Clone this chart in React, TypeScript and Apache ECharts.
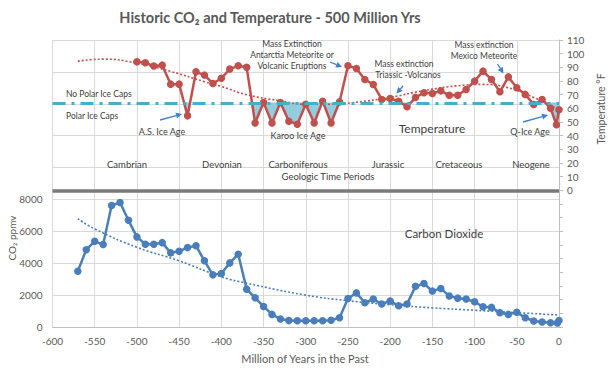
import React, { useEffect, useRef } from 'react';
import * as echarts from 'echarts';

// ---- Data ----
const co2Years = [-570, -560, -550, -540, -530, -520, -510, -500, -490, -480, -470, -460, -450, -440, -430, -420, -410, -400, -390, -380, -370, -360, -350, -340, -330, -320, -310, -300, -290, -280, -270, -260, -250, -240, -230, -220, -210, -200, -190, -180, -170, -160, -150, -140, -130, -120, -110, -100, -90, -80, -70, -60, -50, -40, -30, -20, -10, -2, 0];
const co2Values = [3500, 4850, 5375, 5170, 7625, 7810, 6690, 5650, 5190, 5190, 5290, 4650, 4750, 4980, 5100, 4150, 3270, 3350, 4020, 4560, 2375, 1830, 1290, 790, 500, 400, 390, 390, 390, 390, 420, 580, 1790, 2140, 1520, 1750, 1440, 1625, 1330, 1440, 2550, 2730, 2250, 2420, 1940, 1810, 1750, 1580, 1270, 1230, 900, 790, 920, 580, 375, 310, 270, 250, 400];

const co2TrendYears = [-570, -550, -500, -450, -400, -370, -300, -250, -200, -150, -100, -50, 0];
const co2TrendValues = [6800, 6150, 5000, 4150, 3150, 2750, 2000, 1650, 1400, 1200, 1050, 900, 750];

const tempYears = [-500, -490, -480, -470, -460, -450, -440, -430, -420, -410, -400, -390, -380, -370, -360, -350, -340, -330, -320, -310, -300, -290, -280, -270, -260, -250, -240, -230, -220, -210, -200, -190, -180, -170, -160, -150, -140, -130, -120, -110, -100, -90, -80, -70, -60, -50, -40, -30, -20, -10, -3, 0];
const tempValues = [94, 93.3, 91, 91.6, 77.7, 77.7, 54.5, 86.7, 84.3, 78.2, 82, 88.7, 91.1, 90, 49.3, 64.3, 49.3, 64.3, 50.6, 48.4, 63, 49.3, 65.2, 49.3, 64.7, 91.1, 89.2, 81.1, 77.5, 66.5, 67.2, 65.2, 61.1, 68, 71.4, 70.9, 72.8, 69.6, 69.6, 73.8, 79.9, 87.2, 81.1, 72.1, 83, 75, 70.2, 62.8, 66.5, 60, 48, 59];

const tempTrendYears = [-570, -540, -500, -460, -420, -400, -370, -330, -300, -270, -240, -200, -160, -120, -90, -60, -30, -5];
const tempTrendValues = [94.5, 96, 93, 87, 79.5, 76, 70, 65.5, 63, 63, 64.5, 68, 73, 76.5, 77.5, 75, 68, 61];

const iceCapLine = 64; // Polar ice caps threshold, °F
const co2TickLabels = [0, 2000, 4000, 6000, 8000];
const tempTickLabels = [0, 10, 20, 30, 40, 50, 60, 70, 80, 90, 100, 110];

const periods = ['Cambrian', 'Devonian', 'Carboniferous', 'Jurassic', 'Cretaceous', 'Neogene'];

const zip = (xs: number[], ys: number[]) => xs.map((x, i) => [x, ys[i]]);

const FONT = 'Lato, "Open Sans", sans-serif';
const RED = '#C0504D';
const BLUE = '#4A7EBB';
const ARROW = '#3F7FCF';
const TXT = '#404040';
const AX = '#595959';
const FILL = '#93CDDD';

function arrow(x1: number, y1: number, x2: number, y2: number) {
  const ang = Math.atan2(y2 - y1, x2 - x1);
  const hl = 6, hw = 3;
  const bx = x2 - hl * Math.cos(ang), by = y2 - hl * Math.sin(ang);
  const px = -Math.sin(ang) * hw, py = Math.cos(ang) * hw;
  return [
    { type: 'line', shape: { x1, y1, x2: bx, y2: by }, style: { stroke: ARROW, lineWidth: 1.3 }, z: 10 },
    { type: 'polygon', shape: { points: [[x2, y2], [bx + px, by + py], [bx - px, by - py]] }, style: { fill: ARROW }, z: 10 },
  ];
}

function label(text: string, x: number, y: number, size: number, extra: any = {}) {
  return {
    type: 'text', x, y, z: 10,
    style: { text, fill: TXT, fontSize: size, fontFamily: FONT, textAlign: 'center', textVerticalAlign: 'middle', ...extra },
  };
}

export default function App() {
  const ref = useRef<HTMLDivElement>(null);
  useEffect(() => {
    const chart = echarts.init(ref.current!, null, { renderer: 'svg' });
    const periodX = [127, 222, 298, 388, 459, 531];
    const segments = tempYears.slice(1).map((x, i) => [tempYears[i], tempValues[i], x, tempValues[i + 1]]);
    const option: any = {
      animation: false,
      backgroundColor: '#ffffff',
      grid: { left: 52.5, right: 55, top: 40, bottom: 41 },
      xAxis: {
        type: 'value', min: -600, max: 0, interval: 50,
        axisLine: { show: true, onZero: false, lineStyle: { color: '#BFBFBF' } },
        axisTick: { show: false },
        splitLine: { show: true, lineStyle: { color: '#D9D9D9', width: 1 } },
        axisLabel: { color: AX, fontSize: 10, fontFamily: FONT, margin: 9 },
      },
      yAxis: [
        {
          type: 'value', min: 0, max: 18000, interval: 2000, position: 'left',
          axisLine: { show: false }, axisTick: { show: false },
          splitLine: { show: true, lineStyle: { color: '#D9D9D9', width: 1 } },
          axisLabel: {
            color: AX, fontSize: 10, fontFamily: FONT, margin: 10,
            formatter: (v: number) => (co2TickLabels.includes(v) ? String(v) : ''),
          },
        },
        {
          type: 'value', min: -100, max: 110, interval: 10, position: 'right',
          axisLine: { show: true, lineStyle: { color: '#BFBFBF' } },
          axisTick: { show: true, length: 4, lineStyle: { color: '#BFBFBF' } },
          splitLine: { show: false },
          axisLabel: {
            color: AX, fontSize: 10, fontFamily: FONT, margin: 8,
            formatter: (v: number) => (tempTickLabels.includes(v) ? String(v) : ''),
          },
        },
      ],
      series: [
        {
          // ice-age shading between temperature line and ice-cap threshold
          type: 'custom', yAxisIndex: 1, z: 1, silent: true,
          data: segments,
          encode: { x: [0, 2], y: [1, 3] },
          renderItem: (params: any, api: any) => {
            const x1 = api.value(0), y1 = api.value(1), x2 = api.value(2), y2 = api.value(3);
            const t = iceCapLine;
            if (y1 >= t && y2 >= t) return { type: 'group', children: [] };
            let sx1 = x1, sy1 = y1, sx2 = x2, sy2 = y2;
            if (y1 >= t) { const f = (y1 - t) / (y1 - y2); sx1 = x1 + f * (x2 - x1); sy1 = t; }
            if (y2 >= t) { const f = (t - y1) / (y2 - y1); sx2 = x1 + f * (x2 - x1); sy2 = t; }
            const pts = [api.coord([sx1, t]), api.coord([sx1, sy1]), api.coord([sx2, sy2]), api.coord([sx2, t])];
            return { type: 'polygon', shape: { points: pts }, style: { fill: FILL, stroke: FILL, lineWidth: 0.6 } };
          },
        },
        {
          type: 'line', yAxisIndex: 0, data: zip(co2TrendYears, co2TrendValues),
          smooth: true, showSymbol: false, z: 2,
          lineStyle: { color: BLUE, width: 1.6, type: [2, 2] },
        },
        {
          type: 'line', yAxisIndex: 0, data: zip(co2Years, co2Values),
          symbol: 'circle', symbolSize: 7.5, z: 3,
          itemStyle: { color: BLUE },
          lineStyle: { color: BLUE, width: 2.5 },
        },
        {
          type: 'line', yAxisIndex: 1, data: zip(tempTrendYears, tempTrendValues),
          smooth: true, showSymbol: false, z: 2,
          lineStyle: { color: RED, width: 1.6, type: [2, 2] },
          markLine: {
            silent: true, symbol: 'none', label: { show: false },
            data: [
              { yAxis: 0, lineStyle: { color: '#7A7A7A', width: 3.5, type: 'solid' } },
              { yAxis: iceCapLine, lineStyle: { color: '#41B0CE', width: 3, type: [13, 6, 3, 6] } },
            ],
          },
        },
        {
          type: 'line', yAxisIndex: 1, data: zip(tempYears, tempValues),
          symbol: 'circle', symbolSize: 7.5, z: 4,
          itemStyle: { color: RED },
          lineStyle: { color: RED, width: 2.5 },
        },
      ],
      graphic: [
        {
          type: 'text', x: 270, y: 17, z: 10,
          style: { text: 'Historic CO₂ and Temperature - 500 Million Yrs', fill: AX, fontSize: 14.5, fontWeight: 'bold', fontFamily: FONT, textAlign: 'center', textVerticalAlign: 'middle' },
        },
        {
          type: 'text', x: 12, y: 238, rotation: Math.PI / 2, z: 10,
          style: { text: 'CO₂ ppmv', fill: AX, fontSize: 10, fontFamily: FONT, textAlign: 'center', textVerticalAlign: 'middle' },
        },
        {
          type: 'text', x: 601, y: 109, rotation: Math.PI / 2, z: 10,
          style: { text: 'Temperature °F', fill: AX, fontSize: 10.5, fontFamily: FONT, textAlign: 'center', textVerticalAlign: 'middle' },
        },
        {
          type: 'text', x: 305, y: 358, z: 10,
          style: { text: 'Million of Years in the Past', fill: AX, fontSize: 11, fontFamily: FONT, textAlign: 'center', textVerticalAlign: 'middle' },
        },
        label('No Polar Ice Caps', 66, 93.5, 8.5, { textAlign: 'left' }),
        label('Polar Ice Caps', 66, 115.5, 8.5, { textAlign: 'left' }),
        label('A.S. Ice Age', 162, 131, 9),
        label('Mass Extinction', 292, 44, 8.5),
        label('Antarctia Meteorite or', 292, 55, 8.5),
        label('Volcanic Eruptions', 292, 66, 8.5),
        label('Mass extinction', 404, 63.5, 8.5),
        label('Triassic -Volcanos', 408, 75, 8.5),
        label('Mass extinction', 484, 45, 8.5),
        label('Mexico Meteorite', 484, 56, 8.5),
        label('Karoo Ice Age', 298, 135, 9),
        label('Temperature', 432, 128, 12),
        label('Q-Ice Age', 530, 131.5, 9),
        ...periods.map((p, i) => label(p, periodX[i], 164, 9.5)),
        label('Geologic Time Periods', 328, 176.5, 9.5),
        label('Carbon Dioxide', 444, 233, 11.5),
        ...arrow(160, 120, 182, 114),
        ...arrow(330, 62, 342, 67),
        ...arrow(403, 86, 396.5, 93.5),
        ...arrow(497.5, 64, 503.5, 73.5),
        ...arrow(523, 122, 548, 115),
      ],
    };
    chart.setOption(option);
    return () => chart.dispose();
  }, []);
  return <div ref={ref} style={{ position: 'absolute', left: 0, top: 0, width: 614, height: 368 }} />;
}
